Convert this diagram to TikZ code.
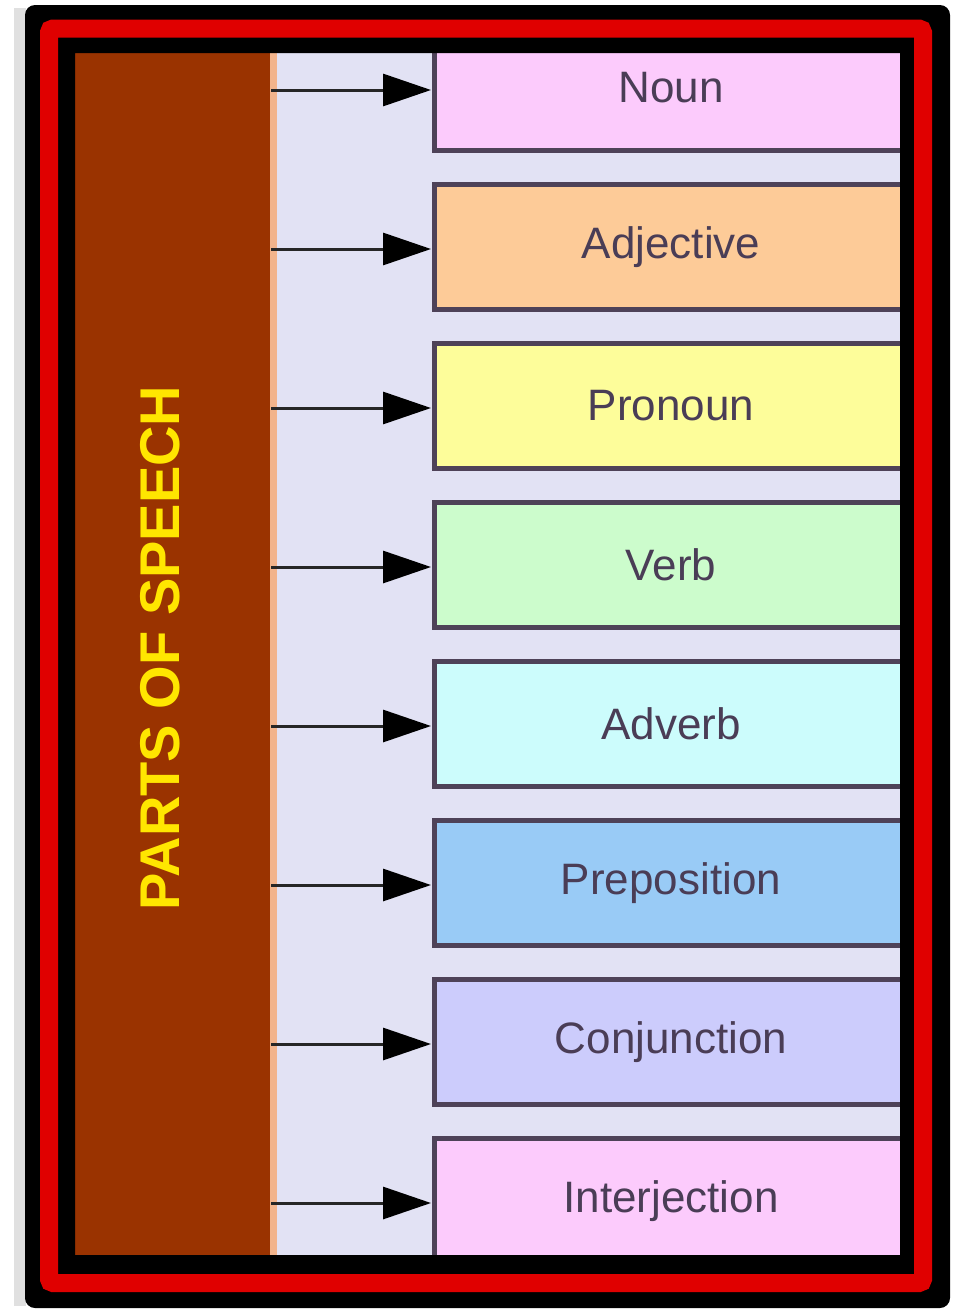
\documentclass[tikz,border=0pt]{standalone}
\usepackage{fontspec}
\setmainfont{Liberation Sans}
\usetikzlibrary{arrows.meta}

\definecolor{panelbg}{HTML}{E2E2F4}
\definecolor{rust}{HTML}{9A3300}
\definecolor{peachline}{HTML}{F2B48C}
\definecolor{titleyellow}{HTML}{FFE600}
\definecolor{boxline}{HTML}{4E4258}
\definecolor{boxtext}{HTML}{4A3D56}
\definecolor{framered}{HTML}{E00000}
\definecolor{cNoun}{HTML}{FCCBFC}
\definecolor{cAdj}{HTML}{FDCB98}
\definecolor{cPron}{HTML}{FDFD9A}
\definecolor{cVerb}{HTML}{CCFCCC}
\definecolor{cAdv}{HTML}{CCFCFC}
\definecolor{cPrep}{HTML}{99CBF6}
\definecolor{cConj}{HTML}{CCCCFC}
\definecolor{cInt}{HTML}{FCCBFC}

\tikzset{
  wordbox/.style={draw=boxline, line width=5pt, minimum width=473pt,
    minimum height=125pt, inner sep=0pt,
    font=\fontsize{44}{50}\selectfont, text=boxtext},
  pointer/.style={draw=black!85, line width=3pt,
    -{Triangle[length=48pt, width=32pt, fill=black, color=black]}, shorten >=1pt}
}

\begin{document}
\begin{tikzpicture}[x=1pt, y=-1pt]
  \useasboundingbox (0,0) rectangle (959,1312);
  \fill[white] (0,0) rectangle (959,1312);

  % soft shadow at the left edge
  \fill[black!12] (14,8) rectangle (26,1306);

  % panel background
  \fill[panelbg] (70,48) rectangle (905,1260);

  % title column
  \node[fill=rust, minimum width=197pt, minimum height=1210pt, inner sep=0pt,
        outer sep=0pt] (title) at (172.5,653) {};
  \node[rotate=90, font=\fontsize{56}{60}\selectfont\bfseries, text=titleyellow,
        inner sep=0pt] (titletext) at (160,648) {PARTS OF SPEECH};
  \fill[peachline] (270,48) rectangle (277,1255);

  % word boxes
  \node[wordbox, fill=cNoun] (noun) at (671,88)   {Noun};
  \node[wordbox, fill=cAdj]  (adj)  at (671,247)  {Adjective};
  \node[wordbox, fill=cPron] (pron) at (671,406)  {Pronoun};
  \node[wordbox, fill=cVerb] (verb) at (671,565)  {Verb};
  \node[wordbox, fill=cAdv]  (adv)  at (671,724)  {Adverb};
  \node[wordbox, fill=cPrep] (prep) at (671,883)  {Preposition};
  \node[wordbox, fill=cConj] (conj) at (671,1042) {Conjunction};
  \node[wordbox, fill=cInt]  (intj) at (671,1201) {Interjection};

  % connectors from the title column to each box
  \foreach \b in {noun,adj,pron,verb,adv,prep,conj,intj}
    \draw[pointer] ([yshift=-2pt]title.east |- \b.west) -- ([yshift=-2pt]\b.west);

  % black frame with a red inner line
  \fill[black, even odd rule]
    [rounded corners=10pt] (25,5) rectangle (950,1308)
    [sharp corners] (75,53) rectangle (900,1255);
  \draw[framered, line width=18pt, rounded corners=4pt] (49,28.5) rectangle (923,1283);
\end{tikzpicture}
\end{document}
